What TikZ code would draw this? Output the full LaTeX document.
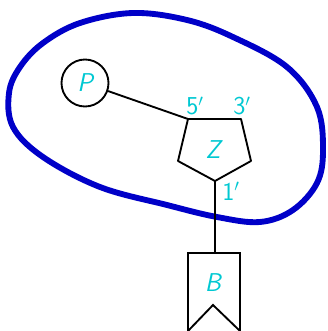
\documentclass[tikz,border=0pt]{standalone}
\usepackage{tikz}
\usetikzlibrary{calc}
\definecolor{labcyan}{RGB}{0,200,210}
\definecolor{loopblue}{RGB}{0,0,200}
\tikzset{
  lab/.style={text=labcyan, font=\fontsize{22}{24}\selectfont\sffamily\slshape, inner sep=0pt},
  num/.style={lab, font=\fontsize{22}{24}\selectfont\sffamily},
  bond/.style={line width=1.6pt, black},
}
\begin{document}
\begin{tikzpicture}[x=0.03cm, y=-0.03cm]
        \useasboundingbox (0,0) rectangle (327,331);
        % Draw the loop
        \draw[loopblue, line width=5pt] plot[smooth cycle, tension=0.6] coordinates {
          (43,43) (80,23) (133,13) (187,20) (233,37) (287,67) (317,107)
          (323,150) (317,183) (293,210) (260,222) (217,217) (167,205)
          (100,187) (43,157) (13,127) (9,93) (20,67)};
        % Coordinates
        \coordinate (v5) at (188,119);
        \coordinate (v3) at (241,119);
        \coordinate (v4) at (251,161);
        \coordinate (v1) at (215,181);
        \coordinate (v2) at (178,161);
        \coordinate (btl) at (188,253);
        \coordinate (btop) at (215,253);
        \coordinate (btr) at (240,253);
        % Draw the nodes
        \node[draw, bond, circle, inner sep=0pt, minimum size=1.41cm] (p) at (85,83) {};
        \node[lab] at (p) {P};
        % Draw the ring
        \draw[bond, line join=round] (v5) -- (v3) -- (v4) -- (v1) -- (v2) -- cycle;
        % Draw the base
        \draw[bond, line join=miter] (188,333) -- (btl) -- (btr) -- (240,333);
        \draw[bond] (188,331) -- (213,305) -- (240,331);
        % Draw the bonds
        \draw[bond] (p) -- (v5);
        \draw[bond] (v1) -- (btop);
        % Label the elements
        \node[num] at (195,106) {5$'$};
        \node[num] at (242,106) {3$'$};
        \node[lab] at (213,150) {Z};
        \node[num] at (231,191) {1$'$};
        \node[lab] at (213,283) {B};
    \end{tikzpicture}
\end{document}
